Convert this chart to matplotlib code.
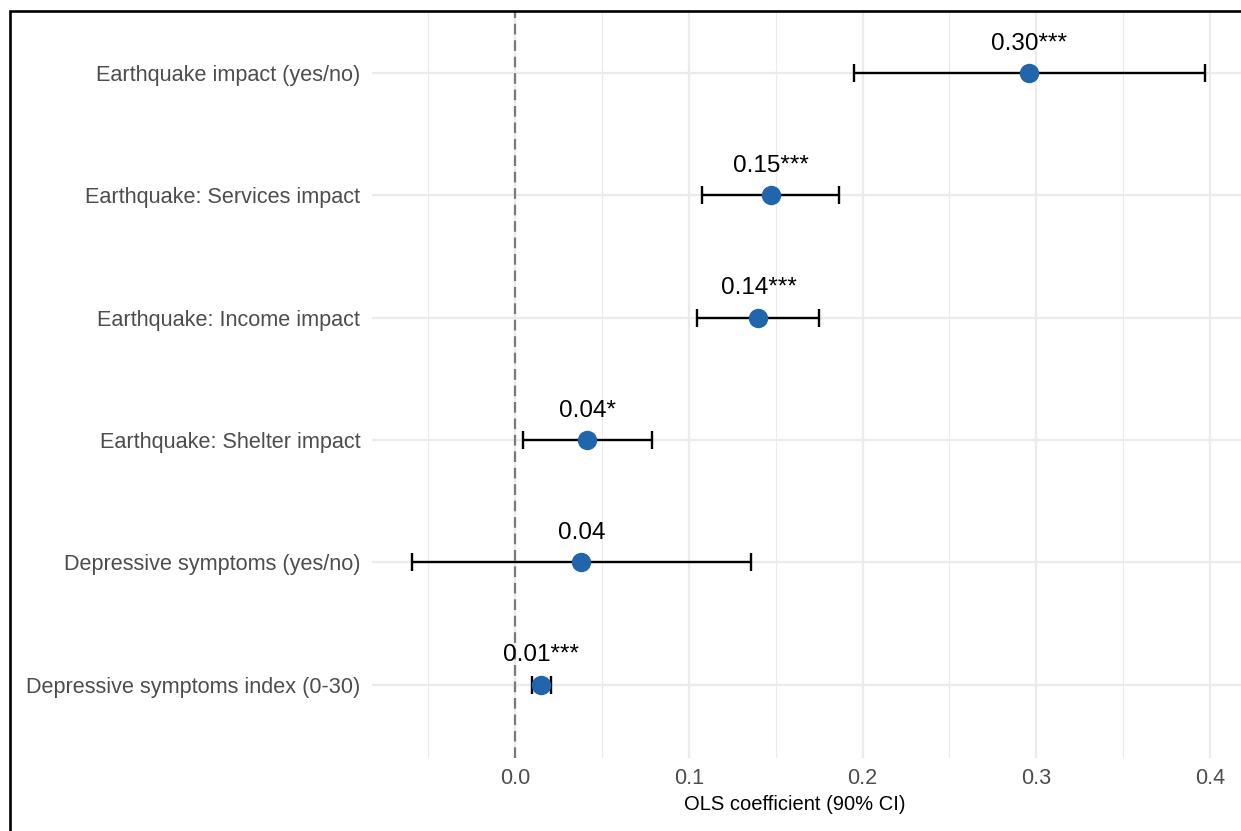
import matplotlib
matplotlib.use("Agg")
import matplotlib.pyplot as plt
from matplotlib.patches import Rectangle
from matplotlib.ticker import MultipleLocator
import numpy as np

plt.rcParams['font.family'] = ['Liberation Sans', 'DejaVu Sans']

# data, top row first
labels = ["Earthquake impact (yes/no)",
          "Earthquake: Services impact",
          "Earthquake: Income impact",
          "Earthquake: Shelter impact",
          "Depressive symptoms (yes/no)",
          "Depressive symptoms index (0-30)"]
coef = [0.296, 0.147, 0.140, 0.0415, 0.038, 0.015]
ci_low = [0.195, 0.1075, 0.1044, 0.0046, -0.0597, 0.0094]
ci_high = [0.397, 0.1864, 0.1749, 0.0787, 0.1357, 0.0204]
annot = ["0.30***", "0.15***", "0.14***", "0.04*", "0.04", "0.01***"]

W, H = 1241, 831
fig = plt.figure(figsize=(W / 100, H / 100), dpi=100)
ax = fig.add_axes([372 / W, 1 - 758 / H, (1244.4 - 372) / W, (758 - 12) / H])

ypos = np.arange(len(labels))[::-1] + 1

# grid (theme_minimal look)
ax.set_facecolor("white")
for s in ax.spines.values():
    s.set_visible(False)
ax.xaxis.set_major_locator(MultipleLocator(0.1))
ax.xaxis.set_minor_locator(MultipleLocator(0.05))
ax.grid(True, which="major", color="#EBEBEB", lw=1.6, zorder=0)
ax.grid(True, which="minor", axis="x", color="#EBEBEB", lw=0.8, zorder=0)
ax.set_axisbelow(True)

ax.axvline(0, color="#7A7A7A", lw=1.6, dashes=(4.8, 2.6), zorder=1)

xerr = [np.array(coef) - np.array(ci_low), np.array(ci_high) - np.array(coef)]
ax.errorbar(coef, ypos, xerr=xerr, fmt="none", ecolor="black", elinewidth=1.7,
            capsize=6.2, capthick=1.7, zorder=2)
ax.plot(coef, ypos, "o", color="#2166AC", markersize=14, mec="none", zorder=3)

for x, y, t in zip(coef, ypos, annot):
    ax.annotate(t, (x, y), xytext=(0, 16.8), textcoords="offset points",
                ha="center", va="baseline", fontsize=17.5, color="black", zorder=4)

ax.set_yticks(ypos)
ax.set_yticklabels(labels)
ax.set_xticks([0.0, 0.1, 0.2, 0.3, 0.4])
ax.set_xticklabels(["0.0", "0.1", "0.2", "0.3", "0.4"])
ax.set_xlim(-0.0825, 0.4198)
ax.set_ylim(0.4, 6.5)
ax.tick_params(axis="both", which="both", length=0, labelsize=15.6, labelcolor="#4D4D4D")
ax.tick_params(axis="y", pad=8.5)
ax.tick_params(axis="x", pad=7)
ax.set_xlabel("OLS coefficient (90% CI)", fontsize=14.5, color="black")
ax.xaxis.set_label_coords(0.485, -0.063)
ax.xaxis.label.set_va("center")

# outer frame (cropped on right and bottom)
fig.add_artist(Rectangle((10 / W, -0.2), 1.5, 1.2 - 11 / H, transform=fig.transFigure,
                         fill=False, ec="black", lw=1.9))

fig.savefig("out.png", dpi=100)
